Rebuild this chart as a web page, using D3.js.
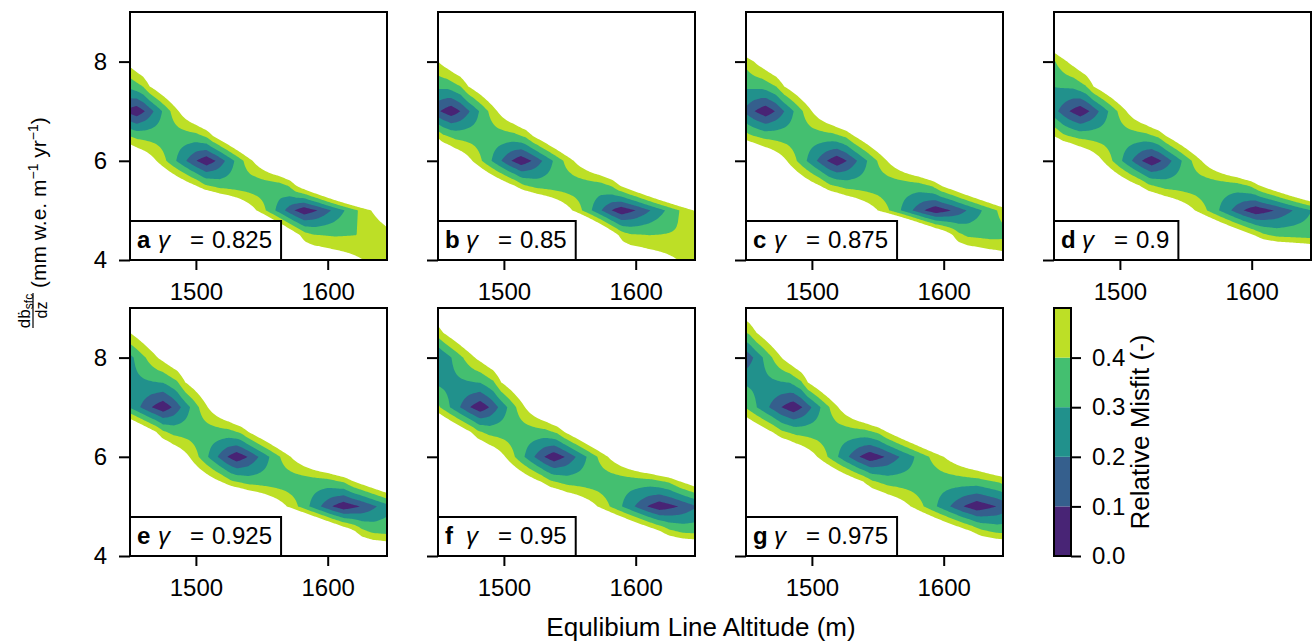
<!DOCTYPE html>
<html><head><meta charset="utf-8">
<script src="https://cdn.jsdelivr.net/npm/d3@7"></script>
<style>
body{margin:0;background:#fff}
svg text{font-family:"Liberation Sans",Arial,Helvetica,sans-serif;fill:#000}
</style></head><body>
<svg id="chart" width="1314" height="644" xmlns="http://www.w3.org/2000/svg"></svg>
<script>
// ---------------- DATA ----------------
const gradRows = [4, 4.5, 5, 5.5, 6, 6.5, 7, 7.5, 8, 8.5, 9];   // mass-balance gradient rows
const panelLetters = ["a", "b", "c", "d", "e", "f", "g"];
const gammaLabels = ["0.825", "0.85", "0.875", "0.9", "0.925", "0.95", "0.975"];
const misfitLevels = [0, 0.1, 0.2, 0.3, 0.4, 0.5];
const xTickValues = [1500, 1600];
const yTickValues = [4, 6, 8];
const cbTickValues = [0, 0.1, 0.2, 0.3, 0.4];
// per gradient row: [ELA where misfit reaches 0.5 on low side, ELA of row minimum,
//                    ELA where misfit reaches 0.5 on high side, row minimum misfit]
const rowsA = [[1627,1737,1797,.03],[1579,1605,1650,.39],[1546,1582,1633,.03],[1500,1545,1576,.33],[1470,1508,1543,.03],[1439,1481,1513,.34],[1408,1455,1487,.03],[1380,1430,1465,.30],[1360,1405,1445,.03],[1340,1385,1415,.33],[1320,1365,1400,.03]];
const rowsB = [[1632,1742,1802,.03],[1587,1610,1662,.40],[1552,1589,1644,.03],[1508,1551,1588,.33],[1476,1513,1553,.03],[1448,1486,1522,.34],[1418,1460,1495,.03],[1384,1434,1473,.30],[1363,1408,1450,.03],[1343,1388,1420,.33],[1323,1368,1405,.03]];
const rowsC = [[1665,1775,1835,.03],[1607,1635,1680,.36],[1550,1594,1652,.03],[1506,1556,1598,.33],[1481,1519,1557,.03],[1445,1492,1532,.34],[1422,1465,1500,.03],[1388,1438,1479,.30],[1367,1412,1456,.03],[1347,1392,1425,.33],[1327,1372,1410,.03]];
const rowsD = [[1720,1830,1890,.03],[1602,1645,1700,.35],[1557,1603,1673,.03],[1515,1563,1606,.33],[1487,1524,1562,.03],[1450,1497,1535,.34],[1428,1470,1505,.03],[1392,1442,1480,.29],[1370,1415,1460,.03],[1350,1395,1432,.33],[1330,1375,1415,.03]];
const rowsE = [[1700,1810,1870,.03],[1621,1655,1720,.35],[1569,1612,1675,.03],[1519,1571,1620,.33],[1495,1531,1572,.03],[1470,1503,1540,.34],[1432,1475,1509,.03],[1400,1450,1492,.27],[1380,1425,1471,.03],[1360,1405,1450,.33],[1340,1385,1430,.03]];
const rowsF = [[1720,1830,1890,.03],[1619,1662,1720,.35],[1571,1618,1690,.03],[1528,1578,1634,.33],[1501,1538,1579,.03],[1475,1510,1546,.34],[1444,1482,1516,.03],[1408,1458,1498,.27],[1388,1433,1478,.03],[1368,1413,1454,.33],[1348,1393,1435,.03]];
const rowsG = [[1720,1830,1890,.03],[1621,1670,1720,.35],[1575,1625,1700,.03],[1539,1585,1653,.33],[1504,1544,1600,.03],[1470,1515,1557,.34],[1440,1486,1520,.03],[1413,1463,1497,.27],[1396,1441,1477,.03],[1376,1421,1458,.33],[1356,1401,1440,.03]];
// rise of misfit from the row minimum (0) to the 0.5 crossing (1), vs distance fraction
const intRowShape = [[0,0],[0.2,0.15],[0.6,0.57],[1,1]];
const halfRowShape = [[0,0],[0.6,0.15],[0.85,0.5],[1,1]];

// ---------------- LAYOUT ----------------
const panelsData = [rowsA, rowsB, rowsC, rowsD, rowsE, rowsF, rowsG];
const colLeft = [130, 438, 746, 1054];
const rowTop = [12, 308];
const PW = 257, PH = 248;
const elaDomain = [1450, 1645], gradDomain = [4, 9];
const levelColors = [0.1, 0.3, 0.5, 0.7, 0.9].map(t => d3.interpolateViridis(t));
const gridStep = 1, gridStart = 1438, gridEnd = 1658;
const gridELA = d3.range(gridStart, gridEnd + 0.001, gridStep);

function shapeAt(shape, u) {
  for (let k = 1; k < shape.length; k++) {
    if (u <= shape[k][0]) {
      const [u0, s0] = shape[k - 1], [u1, s1] = shape[k];
      return s0 + (s1 - s0) * (u - u0) / (u1 - u0);
    }
  }
  return 1;
}
function rowValue(row, E, half) {
  const [L, C, R, m] = row;
  const u = E < C ? (C - E) / (C - L) : (E - C) / (R - C);
  if (u >= 1) return Math.min(1.2, 0.5 + 0.4 * (u - 1));
  return m + (0.5 - m) * shapeAt(half ? halfRowShape : intRowShape, u);
}

const svg = d3.select("#chart");
svg.append("rect").attr("width", 1314).attr("height", 644).attr("fill", "#fff");
const defs = svg.append("defs");

function styleAxis(sel, size) {
  sel.select(".domain").remove();
  sel.selectAll(".tick line").attr("stroke", "#000").attr("stroke-width", 2);
  sel.selectAll(".tick text").style("font-size", size + "px").attr("fill", "#000");
}

panelsData.forEach((rows, i) => {
  const col = i % 4, r = Math.floor(i / 4);
  const g = svg.append("g").attr("transform", `translate(${colLeft[col]},${rowTop[r]})`);
  const x = d3.scaleLinear().domain(elaDomain).range([0, PW]);
  const y = d3.scaleLinear().domain(gradDomain).range([PH, 0]);

  const nx = gridELA.length, ny = gradRows.length;
  const values = new Array(nx * ny);
  for (let j = 0; j < ny; j++) {
    const half = gradRows[j] % 1 !== 0;
    for (let k = 0; k < nx; k++) values[j * nx + k] = rowValue(rows[j], gridELA[k], half);
  }
  const contours = d3.contours().size([nx, ny]).thresholds(misfitLevels)(values);
  const proj = d3.geoTransform({
    point(px, py) {
      const E = gridStart + (px - 0.5) * gridStep;
      const G = gradRows[0] + (py - 0.5) * (gradRows[1] - gradRows[0]);
      this.stream.point(x(E), y(G));
    }
  });
  const path = d3.geoPath(proj);
  defs.append("clipPath").attr("id", "clip" + i)
    .append("rect").attr("width", PW).attr("height", PH);
  const cg = g.append("g").attr("clip-path", `url(#clip${i})`);
  contours.forEach((c, k) => {
    cg.append("path").attr("d", path(c))
      .attr("fill", k < 5 ? levelColors[k] : "#fff").attr("stroke", "none");
  });

  // axes
  const xa = g.append("g").attr("transform", `translate(0,${PH})`)
    .call(d3.axisBottom(x).tickValues(xTickValues).tickSize(10).tickPadding(13).tickFormat(d3.format("d")));
  styleAxis(xa, 24);
  const ya = g.append("g")
    .call(d3.axisLeft(y).tickValues(yTickValues).tickSize(11).tickPadding(12)
      .tickFormat(col === 0 ? d3.format("d") : () => ""));
  styleAxis(ya, 24);

  // frame
  g.append("rect").attr("width", PW).attr("height", PH)
    .attr("fill", "none").attr("stroke", "#000").attr("stroke-width", 2);

  // label box
  const lab = g.append("g");
  const box = lab.append("rect").attr("x", 0).attr("y", PH - 39).attr("height", 39)
    .attr("fill", "#fff").attr("stroke", "#000").attr("stroke-width", 2);
  const base = PH - 12;
  lab.append("text").attr("x", 7).attr("y", base).style("font-size", "24px")
    .style("font-weight", "bold").text(panelLetters[i]);
  lab.append("text").attr("x", 28).attr("y", base).style("font-size", "24px")
    .style("font-style", "italic").text("γ");
  lab.append("text").attr("x", 60).attr("y", base).style("font-size", "24px").text("=");
  const vt = lab.append("text").attr("x", 82).attr("y", base).style("font-size", "24px").text(gammaLabels[i]);
  box.attr("width", 82 + vt.node().getComputedTextLength() + 9);
});

// ---------------- COLORBAR ----------------
const cbX = 1054, cbY = 308, cbW = 17, cbH = 248;
const cb = svg.append("g").attr("transform", `translate(${cbX},${cbY})`);
const cy = d3.scaleLinear().domain([misfitLevels[0], misfitLevels[misfitLevels.length - 1]]).range([cbH, 0]);
for (let k = 0; k < misfitLevels.length - 1; k++) {
  cb.append("rect").attr("x", 0).attr("y", cy(misfitLevels[k + 1]))
    .attr("width", cbW).attr("height", cy(misfitLevels[k]) - cy(misfitLevels[k + 1]))
    .attr("fill", levelColors[k]);
}
cb.append("rect").attr("width", cbW).attr("height", cbH).attr("fill", "none")
  .attr("stroke", "#000").attr("stroke-width", 2);
const cba = cb.append("g").attr("transform", `translate(${cbW},0)`)
  .call(d3.axisRight(cy).tickValues(cbTickValues).tickSize(10).tickPadding(11).tickFormat(d3.format(".1f")));
styleAxis(cba, 24);
svg.append("text").attr("transform", "translate(1149,432) rotate(-90)")
  .attr("text-anchor", "middle").style("font-size", "26px").text("Relative Misfit (-)");

// ---------------- AXIS TITLES ----------------
svg.append("text").attr("x", 701).attr("y", 636).attr("text-anchor", "middle")
  .style("font-size", "26px").text("Equlibium Line Altitude (m)");

const yl = svg.append("g").attr("transform", "translate(46,230) rotate(-90)");
const num = yl.append("text").attr("x", -81).attr("y", -16).attr("text-anchor", "middle").style("font-size", "17px");
num.append("tspan").text("dḃ");
num.append("tspan").attr("dy", 3).style("font-size", "12px").text("sfc");
yl.append("line").attr("x1", -98).attr("x2", -63).attr("y1", -13).attr("y2", -13)
  .attr("stroke", "#000").attr("stroke-width", 1.2);
yl.append("text").attr("x", -80).attr("y", 0.5).attr("text-anchor", "middle").style("font-size", "16px").text("dz");
const mt = yl.append("text").attr("x", -58).attr("y", 0).style("font-size", "21px");
mt.append("tspan").text("(mm w.e. m");
mt.append("tspan").attr("dy", -8).style("font-size", "14px").text("−1");
mt.append("tspan").attr("dy", 8).text(" yr");
mt.append("tspan").attr("dy", -8).style("font-size", "14px").text("−1");
mt.append("tspan").attr("dy", 8).text(")");
</script>
</body></html>
